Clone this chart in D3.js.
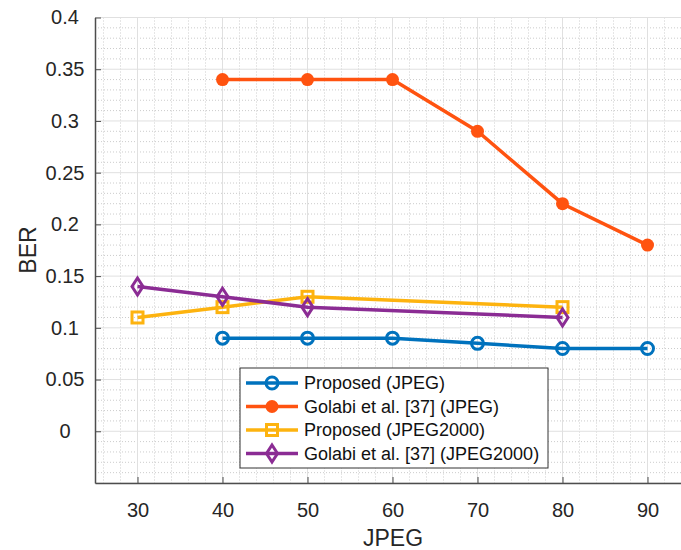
<!DOCTYPE html>
<html lang="en">
<head>
<meta charset="UTF-8">
<title>BER vs JPEG quality</title>
<style>
  body { margin: 0; background: #fff; }
  svg { display: block; font-family: Arial, 'Liberation Sans', sans-serif; }
  .tick text { font-size: 20px; fill: #262626; }
  .legend text { font-size: 18px; fill: #111; }
</style>
</head>
<body>
<div id="chart"></div>
<script src="https://d3js.org/d3.v7.min.js"></script>
<script>
// data
const seriesNames = [
  'Proposed (JPEG)',
  'Golabi et al. [37] (JPEG)',
  'Proposed (JPEG2000)',
  'Golabi et al. [37] (JPEG2000)'
];
const qualityJpeg = [40, 50, 60, 70, 80, 90];
const proposedJpeg = [0.09, 0.09, 0.09, 0.085, 0.08, 0.08];
const golabiJpeg = [0.34, 0.34, 0.34, 0.29, 0.22, 0.18];
const qualityJ2k = [30, 40, 50, 80];
const proposedJ2k = [0.11, 0.12, 0.13, 0.12];
const golabiJ2k = [0.14, 0.13, 0.12, 0.11];
const xTicks = [30, 40, 50, 60, 70, 80, 90];
const yTicks = [0, 0.05, 0.1, 0.15, 0.2, 0.25, 0.3, 0.35, 0.4];

const colors = ['#0072BD', '#FF5310', '#FDB30F', '#8B2C94'];
const markers = ['circle', 'dot', 'square', 'diamond'];

const W = 681, H = 550;
const margin = { top: 17.5, left: 95, bottom: 67, right: -9 };
const iw = W - margin.left - margin.right;
const ih = H - margin.top - margin.bottom;

const x = d3.scaleLinear().domain([25, 95]).range([0, iw]);
const y = d3.scaleLinear().domain([-0.05, 0.4]).range([ih, 0]);

const svg = d3.select('#chart').append('svg')
  .attr('width', W).attr('height', H);
const g = svg.append('g').attr('transform', `translate(${margin.left},${margin.top})`);

// grid: minor dotted, major solid
const xMinor = d3.range(26, 95, 2).filter(v => v % 10 !== 0);
const yMinor = d3.range(-4, 40).map(v => v / 100).filter(v => Math.round(v * 100) % 5 !== 0);
const xMajor = d3.range(30, 95, 10);
const yMajor = d3.range(-5, 41, 5).map(v => v / 100);

g.selectAll('.xminor').data(xMinor).join('line')
  .attr('x1', d => x(d)).attr('x2', d => x(d)).attr('y1', 0).attr('y2', ih)
  .attr('stroke', '#cccccc').attr('stroke-width', 1).attr('stroke-dasharray', '1,2');
g.selectAll('.yminor').data(yMinor).join('line')
  .attr('y1', d => y(d)).attr('y2', d => y(d)).attr('x1', 0).attr('x2', iw)
  .attr('stroke', '#cccccc').attr('stroke-width', 1).attr('stroke-dasharray', '1,2');
g.selectAll('.xmajor').data(xMajor).join('line')
  .attr('x1', d => x(d)).attr('x2', d => x(d)).attr('y1', 0).attr('y2', ih)
  .attr('stroke', '#e0e0e0').attr('stroke-width', 1);
g.selectAll('.ymajor').data(yMajor).join('line')
  .attr('y1', d => y(d)).attr('y2', d => y(d)).attr('x1', 0).attr('x2', iw)
  .attr('stroke', '#e0e0e0').attr('stroke-width', 1);

// axes
const xAxis = g.append('g').attr('transform', `translate(0,${ih})`)
  .call(d3.axisBottom(x).tickValues(xTicks).tickSizeInner(-6).tickSizeOuter(0).tickPadding(20));
const yAxis = g.append('g')
  .call(d3.axisLeft(y).tickValues(yTicks).tickSizeInner(-6).tickSizeOuter(0)
    .tickFormat(d => d3.format('')(+d.toFixed(2))));
// y labels are centred in their column in the source figure
yAxis.selectAll('.tick text').attr('text-anchor', 'middle').attr('x', -30);
[xAxis, yAxis].forEach(a => {
  a.select('.domain').attr('stroke', '#4d4d4d').attr('stroke-width', 1.5);
  a.selectAll('.tick line').attr('stroke', '#4d4d4d');
});

svg.append('text').attr('x', 393).attr('y', 546)
  .attr('text-anchor', 'middle').attr('font-size', 23).attr('fill', '#262626').text('JPEG');
svg.append('text').attr('transform', 'translate(36,250) rotate(-90)')
  .attr('text-anchor', 'middle').attr('font-size', 23).attr('fill', '#262626').text('BER');

// series
const series = [
  { xs: qualityJpeg, ys: proposedJpeg },
  { xs: qualityJpeg, ys: golabiJpeg },
  { xs: qualityJ2k, ys: proposedJ2k },
  { xs: qualityJ2k, ys: golabiJ2k }
];

function drawMarker(sel, type, color, cx, cy) {
  if (type === 'circle') {
    sel.append('circle').attr('cx', cx).attr('cy', cy).attr('r', 6)
      .attr('fill', 'none').attr('stroke', color).attr('stroke-width', 3);
  } else if (type === 'dot') {
    sel.append('circle').attr('cx', cx).attr('cy', cy).attr('r', 6.5)
      .attr('fill', color);
  } else if (type === 'square') {
    sel.append('rect').attr('x', cx - 5.5).attr('y', cy - 5.5).attr('width', 11).attr('height', 11)
      .attr('fill', 'none').attr('stroke', color).attr('stroke-width', 3);
  } else {
    sel.append('path').attr('d', `M${cx},${cy - 8.5}L${cx + 5.5},${cy}L${cx},${cy + 8.5}L${cx - 5.5},${cy}Z`)
      .attr('fill', 'none').attr('stroke', color).attr('stroke-width', 3);
  }
}

const line = d3.line().x(d => x(d[0])).y(d => y(d[1]));
series.forEach((s, i) => {
  const pts = s.xs.map((v, j) => [v, s.ys[j]]);
  g.append('path').datum(pts).attr('d', line)
    .attr('fill', 'none').attr('stroke', colors[i]).attr('stroke-width', 3.5);
  const mg = g.append('g');
  pts.forEach(p => drawMarker(mg, markers[i], colors[i], x(p[0]), y(p[1])));
});

// legend
const lg = svg.append('g').attr('class', 'legend').attr('transform', 'translate(240,368)');
lg.append('rect').attr('width', 308).attr('height', 100)
  .attr('fill', '#fff').attr('stroke', '#333').attr('stroke-width', 1);
seriesNames.forEach((name, i) => {
  const yy = 15 + i * 23.5;
  lg.append('line').attr('x1', 6).attr('x2', 58).attr('y1', yy).attr('y2', yy)
    .attr('stroke', colors[i]).attr('stroke-width', 3.5);
  drawMarker(lg, markers[i], colors[i], 32, yy);
  lg.append('text').attr('x', 64).attr('y', yy + 6).text(name);
});
</script>
</body>
</html>
